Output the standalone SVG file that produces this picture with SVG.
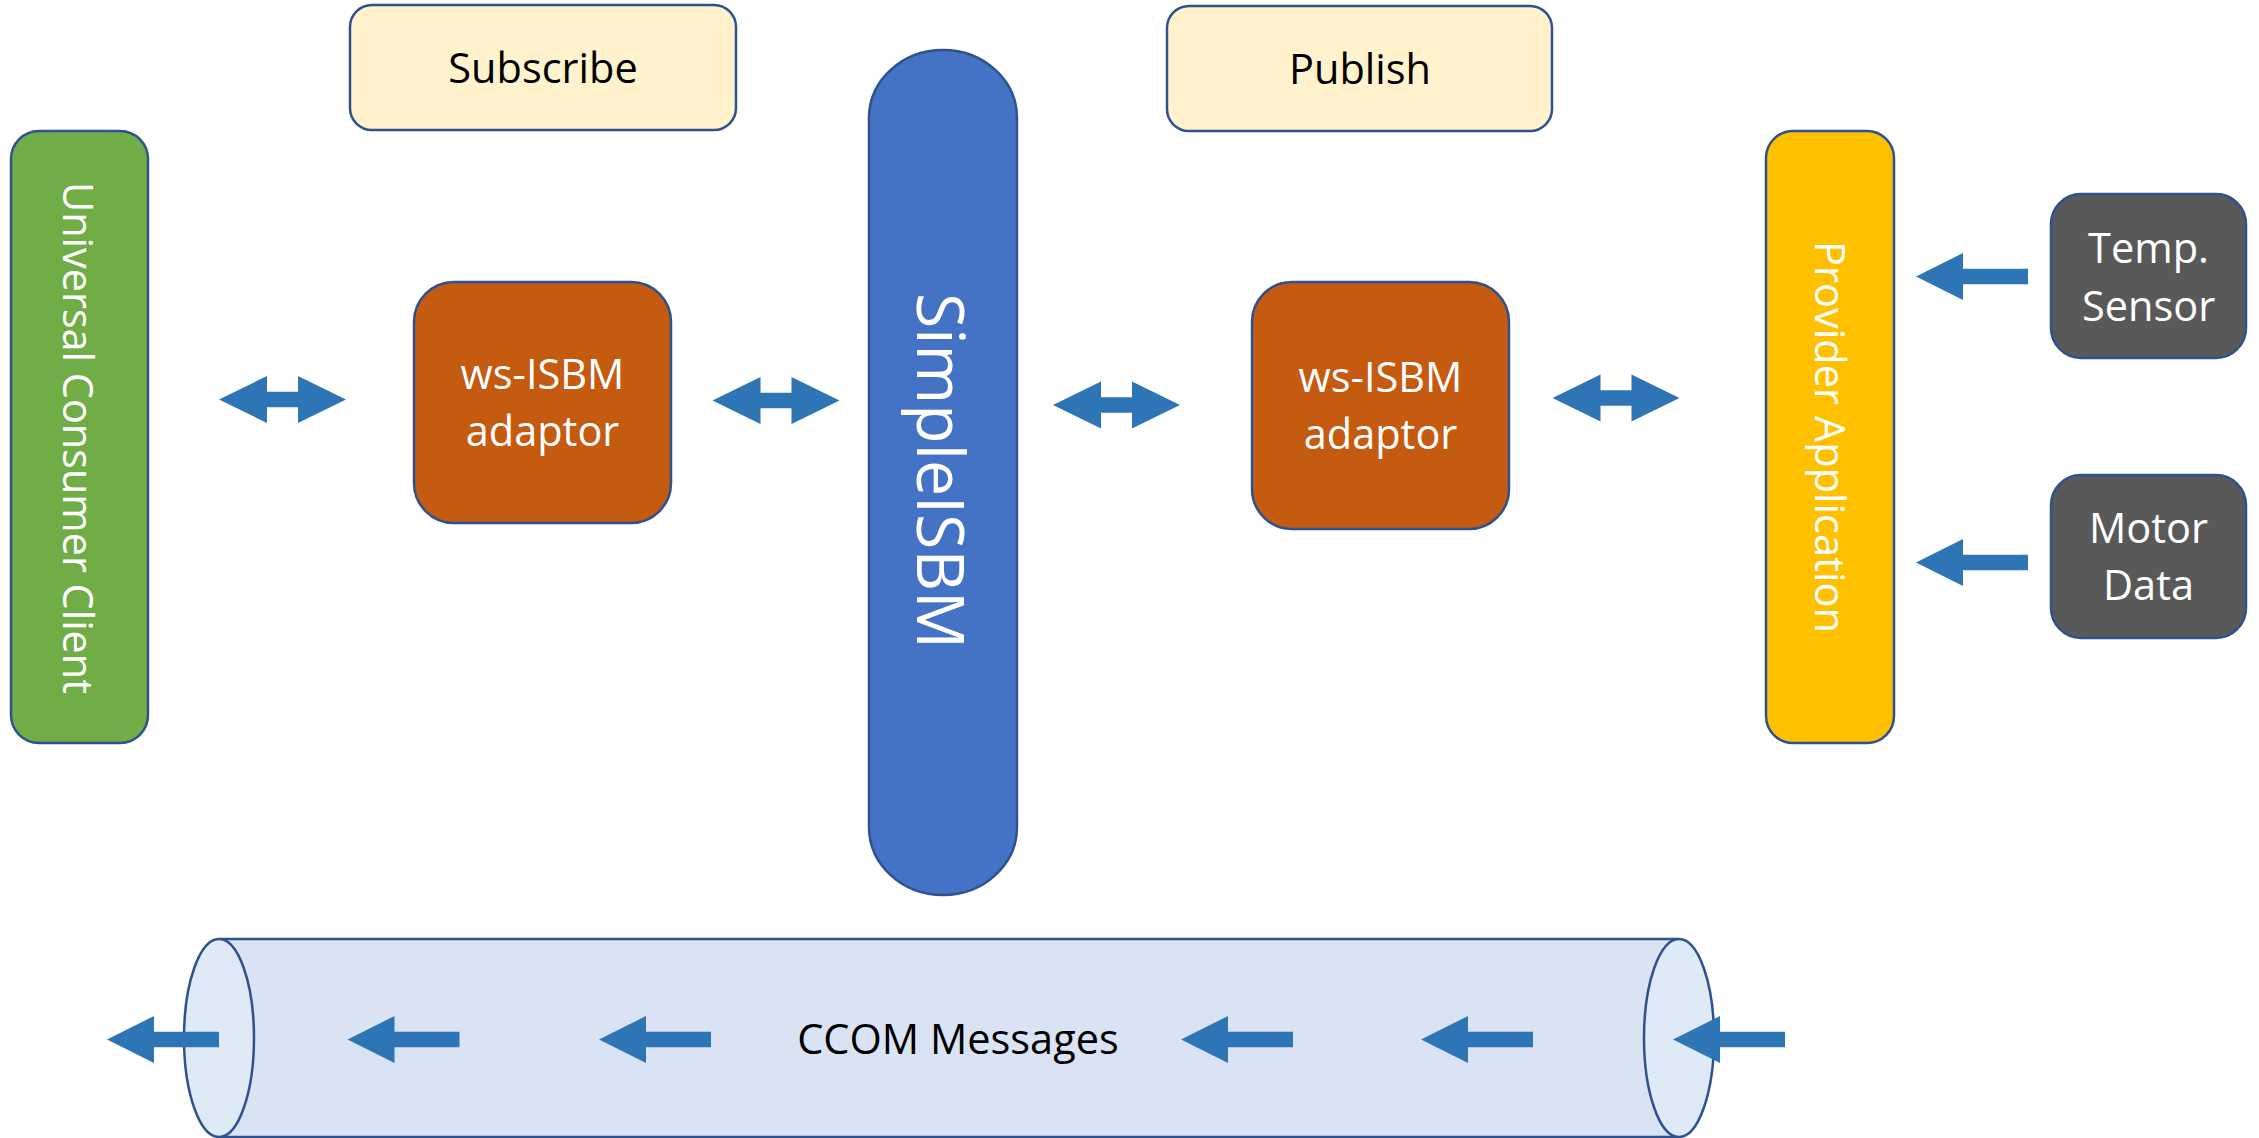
<svg xmlns="http://www.w3.org/2000/svg" width="2259" height="1138" viewBox="0 0 2259 1138">
  <defs>
    <style>
      .box { stroke: #2F528F; stroke-width: 2.5; }
      .note { fill: #FFF2CC; }
      .client { fill: #70AD47; }
      .bus { fill: #4472C4; }
      .adaptor { fill: #C55A11; }
      .provider { fill: #FFC000; }
      .device { fill: #595959; }
      .pipe { fill: #DAE3F3; }
      .pipe-end { fill: #DEEBF7; stroke: #2F528F; stroke-width: 2.5; }
      .pipe-edge { stroke: #2F528F; stroke-width: 2.5; fill: none; }
      .arrow { fill: #2E75B6; }
      text { font-family: "Open Sans", "Liberation Sans", sans-serif; text-anchor: middle; }
      .dark { fill: #000000; font-size: 41.5px; }
      .light { fill: #FFFFFF; font-size: 41.5px; }
    </style>
    <!-- double-headed arrow, 127 long, centred on the origin -->
    <path id="dbl" d="M-63.5,0 L-15.5,-23.5 L-15.5,-7.8 L15.5,-7.8 L15.5,-23.5 L63.5,0 L15.5,23.5 L15.5,7.8 L-15.5,7.8 L-15.5,23.5 Z"/>
    <!-- left-pointing arrow, tip at the origin -->
    <path id="left" d="M0,0 L47,-23.5 L47,-7.8 L112,-7.8 L112,7.8 L47,7.8 L47,23.5 Z"/>
  </defs>

  <!-- message pipe along the bottom -->
  <g id="ccom-pipe">
    <rect class="pipe" x="219" y="939" width="1460" height="198"/>
    <path class="pipe-edge" d="M219,939 H1679 M219,1137 H1679"/>
    <ellipse class="pipe-end" cx="219" cy="1038" rx="35" ry="99"/>
    <ellipse class="pipe-end" cx="1679" cy="1038" rx="35" ry="99"/>
    <text class="dark" x="958" y="1054">CCOM Messages</text>
  </g>

  <g id="subscribe">
    <rect class="box note" x="350" y="5" width="386" height="125" rx="22"/>
    <text class="dark" x="543" y="83">Subscribe</text>
  </g>

  <g id="publish">
    <rect class="box note" x="1167" y="6" width="385" height="125" rx="22"/>
    <text class="dark" x="1360" y="84">Publish</text>
  </g>

  <g id="consumer-client">
    <rect class="box client" x="11" y="131" width="137" height="612" rx="28"/>
    <text class="light" x="63" y="438" transform="rotate(90 63 438)" textLength="512" lengthAdjust="spacingAndGlyphs">Universal Consumer Client</text>
  </g>

  <g id="adaptor-consumer">
    <rect class="box adaptor" x="414" y="282" width="257" height="241" rx="40"/>
    <text class="light" x="542.5" y="389">ws-ISBM</text>
    <text class="light" x="542.5" y="446">adaptor</text>
  </g>

  <g id="simple-isbm">
    <rect class="box bus" x="869" y="50" width="148" height="845" rx="74" ry="68"/>
    <text class="light" x="917" y="471" transform="rotate(90 917 471)" style="font-size:66px" textLength="356" lengthAdjust="spacingAndGlyphs">SimpleISBM</text>
  </g>

  <g id="adaptor-provider">
    <rect class="box adaptor" x="1252" y="282" width="257" height="247" rx="40"/>
    <text class="light" x="1380.5" y="392">ws-ISBM</text>
    <text class="light" x="1380.5" y="449">adaptor</text>
  </g>

  <g id="provider-application">
    <rect class="box provider" x="1766" y="131" width="128" height="612" rx="27"/>
    <text class="light" x="1815" y="437" transform="rotate(90 1815 437)" textLength="392" lengthAdjust="spacingAndGlyphs">Provider Application</text>
  </g>

  <g id="temp-sensor">
    <rect class="box device" x="2051" y="194" width="195" height="164" rx="30"/>
    <text class="light" x="2148.5" y="263">Temp.</text>
    <text class="light" x="2148.5" y="321">Sensor</text>
  </g>

  <g id="motor-data">
    <rect class="box device" x="2051" y="475" width="195" height="163" rx="30"/>
    <text class="light" x="2148.5" y="543">Motor</text>
    <text class="light" x="2148.5" y="600">Data</text>
  </g>

  <g id="connectors" class="arrow">
    <use href="#dbl" x="282.5" y="399.5"/>
    <use href="#dbl" x="776" y="400.5"/>
    <use href="#dbl" x="1116.5" y="405"/>
    <use href="#dbl" x="1616" y="398"/>
    <use href="#left" x="1916" y="276.5"/>
    <use href="#left" x="1916" y="562.5"/>
    <use href="#left" x="107" y="1039.5"/>
    <use href="#left" x="347.5" y="1039.5"/>
    <use href="#left" x="599" y="1039.5"/>
    <use href="#left" x="1181" y="1039.5"/>
    <use href="#left" x="1421" y="1039.5"/>
    <use href="#left" x="1673" y="1039.5"/>
  </g>
</svg>
